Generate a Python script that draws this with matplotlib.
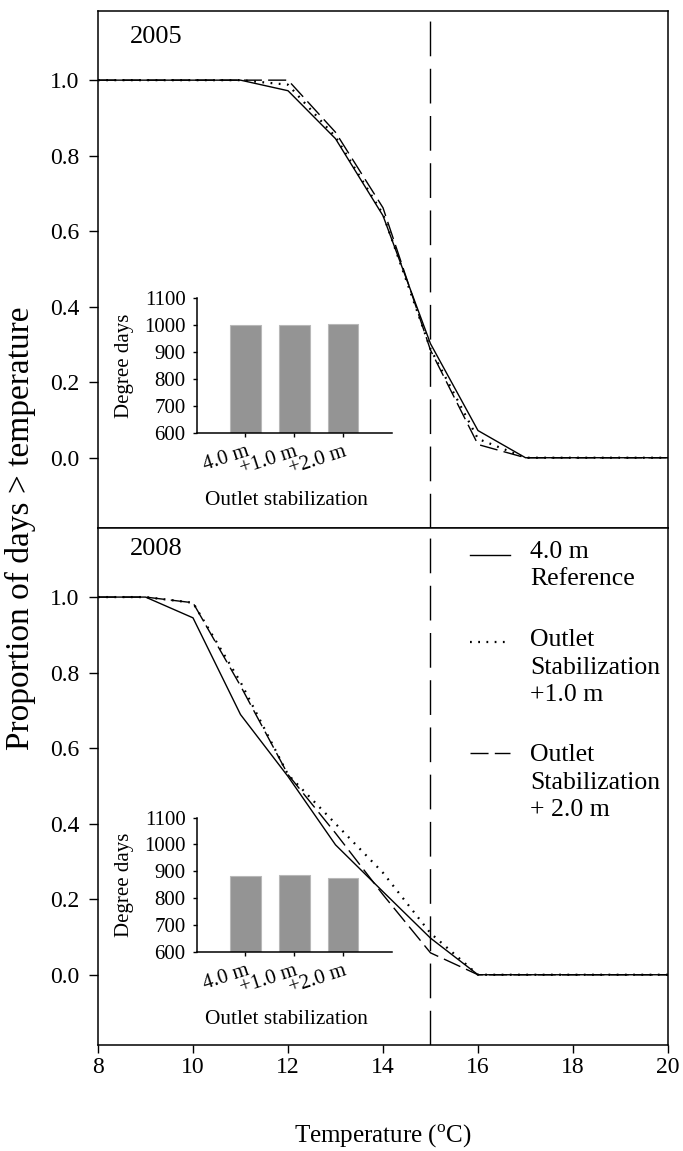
import numpy as np
import matplotlib
matplotlib.use("Agg")
import matplotlib.pyplot as plt

plt.rcParams['font.family'] = ['Liberation Serif', 'DejaVu Serif']
plt.rcParams['mathtext.fontset'] = 'custom'
plt.rcParams['mathtext.rm'] = 'Liberation Serif'

temps = [8, 9, 10, 11, 12, 13, 14, 15, 16, 17, 18, 19, 20]

# proportion of days above each temperature
ref_2005 = [1, 1, 1, 1, 0.972, 0.845, 0.641, 0.302, 0.072, 0, 0, 0, 0]
p1_2005 = [1, 1, 1, 1, 0.988, 0.850, 0.645, 0.288, 0.050, 0, 0, 0, 0]
p2_2005 = [1, 1, 1, 1, 1.000, 0.862, 0.662, 0.285, 0.035, 0, 0, 0, 0]

ref_2008 = [1, 1, 0.945, 0.689, 0.525, 0.344, 0.220, 0.097, 0, 0, 0, 0, 0]
p1_2008 = [1, 1, 0.985, 0.775, 0.530, 0.400, 0.270, 0.110, 0, 0, 0, 0, 0]
p2_2008 = [1, 1, 0.985, 0.765, 0.530, 0.375, 0.212, 0.058, 0, 0, 0, 0, 0]

scenarios = ["4.0 m", "+1.0 m", "+2.0 m"]
dd_2005 = [999, 1001, 1004]
dd_2008 = [882, 885, 876]

legend_labels = ["4.0 m\nReference",
                 "Outlet\nStabilization\n+1.0 m",
                 "Outlet\nStabilization\n+ 2.0 m"]

solid = dict(color='black', lw=1.0, linestyle='-')
dotted = dict(color='black', lw=1.6, linestyle=(0, (0.8, 2.9)))
dashed = dict(color='black', lw=1.0, linestyle=(0, (13, 4.5)))
styles = [solid, dotted, dashed]

fig = plt.figure(figsize=(6.83, 11.51), dpi=100)
ax1 = fig.add_axes([0.1435, 0.5413, 0.8345, 0.4491])
ax2 = fig.add_axes([0.1435, 0.0921, 0.8345, 0.4492])

for ax, series, year, ybase in [(ax1, [ref_2005, p1_2005, p2_2005], "2005", 0.938),
                                (ax2, [ref_2008, p1_2008, p2_2008], "2008", 0.948)]:
    for vals, st in zip(series, styles):
        ax.plot(temps, vals, **st)
    ax.axvline(15, color='black', lw=1.0, linestyle=(0, (25, 9)))
    ax.set_xlim(8, 20)
    ax.set_ylim(-0.186, 1.183)
    ax.set_yticks([0, 0.2, 0.4, 0.6, 0.8, 1.0])
    ax.set_yticklabels(["0.0", "0.2", "0.4", "0.6", "0.8", "1.0"])
    ax.tick_params(axis='y', direction='out', length=6.5, width=1.0, pad=7, labelsize=17)
    ax.text(0.056, ybase, year, transform=ax.transAxes, fontsize=19, va='baseline')
    for s in ax.spines.values():
        s.set_linewidth(1.1)

ax1.tick_params(axis='x', bottom=False, labelbottom=False)
ax2.set_xticks([8, 10, 12, 14, 16, 18, 20])
ax2.tick_params(axis='x', direction='out', length=6, width=1.0, pad=3, labelsize=17)

# legend drawn by hand so the key sits on the first text line
key_y = [0.948, 0.780, 0.564]
txt_top = [0.9755, 0.8046, 0.5822]
for st, lab, ky, ty in zip(styles, legend_labels, key_y, txt_top):
    ax2.plot([0.653, 0.723], [ky, ky], transform=ax2.transAxes, **st)
    ax2.text(0.758, ty, lab, transform=ax2.transAxes, fontsize=18.5,
             va='top', ha='left', linespacing=1.33)

# degree-day insets
for rect, vals in [([0.288, 0.6241, 0.2855, 0.1167], dd_2005),
                   ([0.288, 0.1731, 0.2855, 0.1165], dd_2008)]:
    ins = fig.add_axes(rect)
    ins.patch.set_alpha(0)
    x = np.arange(1, len(vals) + 1)
    ins.bar(x, vals, width=0.63, color='#949494', edgecolor='#b8b8b8', lw=0.8)
    ins.set_xlim(0, 4)
    ins.set_ylim(600, 1100)
    ins.set_yticks([600, 700, 800, 900, 1000, 1100])
    ins.set_xticks(x)
    ins.set_xticklabels(scenarios, rotation=18, ha='right', va='top',
                        rotation_mode='anchor')
    ins.tick_params(axis='both', direction='out', length=3, width=1.0, labelsize=15)
    ins.tick_params(axis='y', pad=5)
    ins.tick_params(axis='x', pad=4)
    ins.spines['top'].set_visible(False)
    ins.spines['right'].set_visible(False)
    ins.spines['left'].set_linewidth(1.1)
    ins.spines['bottom'].set_linewidth(1.1)
    ins.set_ylabel("Degree days", fontsize=15)
    ins.yaxis.set_label_coords(-0.32, 0.5)
    ins.set_xlabel("Outlet stabilization", fontsize=15.3, va='baseline')
    ins.xaxis.set_label_coords(0.4615, -0.54)

fig.text(0.030, 0.541, "Proportion of days > temperature", rotation=90,
         ha='center', va='center', fontsize=24)
fig.text(0.561, 0.0122, "Temperature ($^{\\mathrm{o}}$C)", ha='center', va='center',
         fontsize=18)

fig.savefig("out.png", dpi=100)
